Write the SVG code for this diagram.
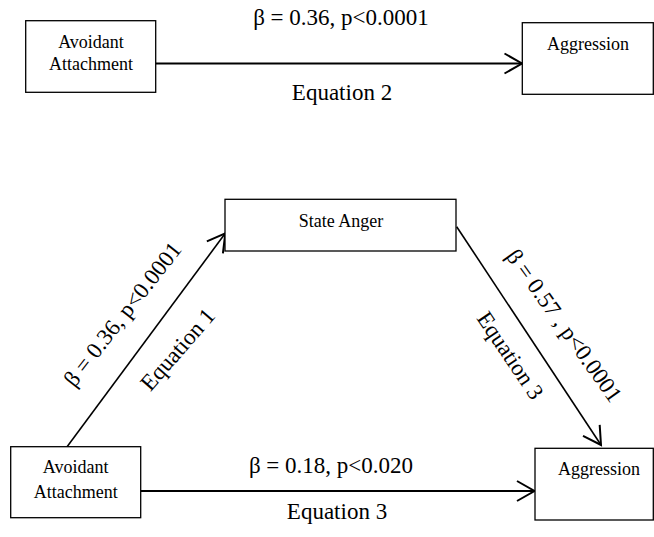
<svg xmlns="http://www.w3.org/2000/svg" width="654" height="537" viewBox="0 0 654 537">
<style>
.box{fill:#fff;stroke:#000;stroke-width:1.3}
.bt{font-family:"Liberation Serif","Times New Roman",serif;font-size:18px;fill:#000;text-anchor:middle}
.lt{font-family:"Liberation Serif","Times New Roman",serif;font-size:23px;fill:#000;text-anchor:middle}
.h{stroke:#000;stroke-width:2;fill:none}
.d{stroke:#000;stroke-width:1.6;fill:none}
</style>
<defs>
<marker id="arr" markerUnits="userSpaceOnUse" markerWidth="24" markerHeight="24" viewBox="-20 -12 22 24" refX="0" refY="0" orient="auto" overflow="visible">
<path d="M-17.5,-10 L0,0 L-17.5,10" fill="none" stroke="#000" stroke-width="2"/>
</marker>
</defs>
<g id="connectors">
<line class="h" x1="156" y1="63.5" x2="522" y2="63.5" marker-end="url(#arr)"/>
<line class="h" x1="141" y1="491" x2="534.5" y2="491" marker-end="url(#arr)"/>
<line class="d" x1="66.7" y1="447.3" x2="225.3" y2="233.3" marker-end="url(#arr)"/>
<line class="d" x1="456.7" y1="226.7" x2="601" y2="445" marker-end="url(#arr)"/>
<text class="lt" x="341" y="25">β = 0.36, p&lt;0.0001</text>
<text class="lt" x="342" y="100">Equation 2</text>
<text class="lt" x="331" y="473.3">β = 0.18, p&lt;0.020</text>
<text class="lt" x="337" y="519">Equation 3</text>
<text class="lt" transform="translate(128.5,319) rotate(-52)">β = 0.36, p&lt;0.0001</text>
<text class="lt" transform="translate(183.5,354.3) rotate(-49)">Equation 1</text>
<text class="lt" transform="translate(558,330) rotate(54.5)">β = 0.57 , p&lt;0.0001</text>
<text class="lt" transform="translate(504,359.8) rotate(56)">Equation 3</text>
</g>
<g id="avoidant-top">
<rect class="box" x="25.7" y="20.7" width="130" height="71.6"/>
<text class="bt" x="91" y="47.7">Avoidant</text>
<text class="bt" x="91" y="70">Attachment</text>
</g>
<g id="aggression-top">
<rect class="box" x="522.3" y="22.7" width="131" height="71.6"/>
<text class="bt" x="588" y="50">Aggression</text>
</g>
<g id="state-anger">
<rect class="box" x="225" y="199.3" width="231" height="51.7"/>
<text class="bt" x="341" y="226.7">State Anger</text>
</g>
<g id="avoidant-bottom">
<rect class="box" x="10.7" y="446.7" width="130" height="71"/>
<text class="bt" x="75.7" y="473.3">Avoidant</text>
<text class="bt" x="75.7" y="498.3">Attachment</text>
</g>
<g id="aggression-bottom">
<rect class="box" x="535" y="448.3" width="118.3" height="71.7"/>
<text class="bt" x="599" y="475">Aggression</text>
</g>
</svg>
